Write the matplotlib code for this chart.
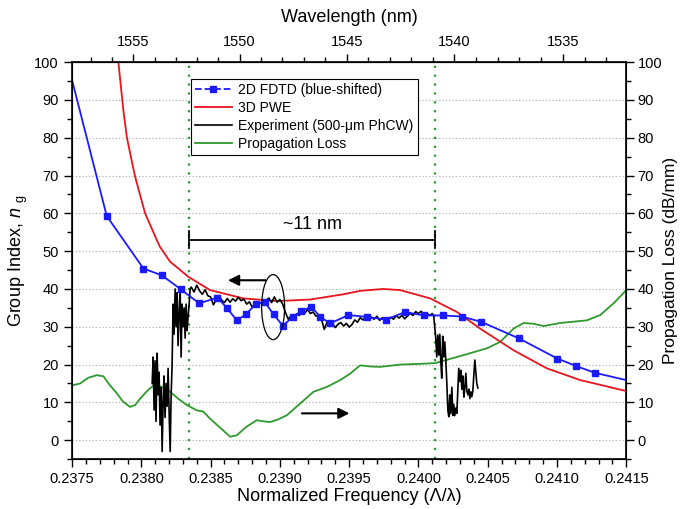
import numpy as np
import matplotlib
matplotlib.use("Agg")
import matplotlib.pyplot as plt
from matplotlib.patches import Ellipse
from matplotlib.ticker import MultipleLocator, FixedLocator
from matplotlib.lines import Line2D

plt.rcParams['font.family'] = ['Liberation Sans', 'DejaVu Sans']
plt.rcParams['mathtext.fontset'] = 'custom'
plt.rcParams['mathtext.rm'] = 'Liberation Sans'
plt.rcParams['mathtext.it'] = 'Liberation Sans:italic'

# lattice constant (nm) linking the two x axes
lattice = 370.0

# 2D FDTD (blue-shifted)
fdtd_f = [0.2375, 0.23775, 0.238015, 0.238148, 0.238285, 0.238417, 0.238549, 0.238617,
          0.238689, 0.238756, 0.238824, 0.238891, 0.238954, 0.239021, 0.239091, 0.239151,
          0.239226, 0.239292, 0.239363, 0.239495, 0.239630, 0.239765, 0.239904, 0.240037,
          0.240177, 0.240314, 0.240453, 0.240727, 0.241002, 0.241139, 0.241276, 0.2415]
fdtd_ng = [95.2, 59.3, 45.4, 43.6, 39.9, 36.2, 37.7, 35.0,
           31.7, 33.3, 36.0, 36.5, 33.3, 30.3, 32.5, 34.1,
           35.3, 32.6, 30.9, 33.1, 32.6, 31.9, 33.9, 33.0,
           33.0, 32.7, 31.3, 26.9, 21.6, 19.6, 17.8, 15.9]

# 3D PWE
pwe_f = [0.237834, 0.237870, 0.237895, 0.237924, 0.237955, 0.238027, 0.238112, 0.238135,
         0.238208, 0.238340, 0.238496, 0.238737, 0.238978, 0.239218, 0.239459, 0.239579,
         0.239745, 0.239868, 0.240085, 0.240278, 0.240446, 0.240686, 0.240927, 0.241168, 0.2415]
pwe_ng = [100, 87.3, 80.2, 75.0, 69.7, 60.0, 52.9, 51.1,
          47.2, 43.2, 39.7, 37.5, 36.8, 37.2, 38.6, 39.5,
          40.0, 39.7, 37.5, 33.9, 29.5, 23.8, 19.0, 15.9, 13.0]

# Experiment (500-um PhCW)
exp_f = [0.238078, 0.238085, 0.238092, 0.238099, 0.238106, 0.238114, 0.238121, 0.238128,
         0.238135, 0.238143, 0.238150, 0.238157, 0.238164, 0.238171, 0.238179, 0.238186,
         0.238193, 0.238200, 0.238208, 0.238215, 0.238222, 0.238229, 0.238236, 0.238244,
         0.238251, 0.238258, 0.238265, 0.238273, 0.238280, 0.238287, 0.238294, 0.238301,
         0.238309, 0.238316, 0.238323, 0.238330, 0.238338, 0.238345, 0.238352,
         0.23836, 0.23838, 0.23840, 0.23842, 0.23844, 0.23846, 0.23848, 0.23850,
         0.23852, 0.23854, 0.23856, 0.23858, 0.23860, 0.23862, 0.23864, 0.23866,
         0.23868, 0.23870, 0.23872, 0.23874, 0.23876, 0.23878, 0.23880, 0.23882,
         0.23884, 0.23886, 0.23888, 0.23890, 0.23892, 0.23894, 0.23896, 0.23898,
         0.23900, 0.23902, 0.23904, 0.23906, 0.23908, 0.23910, 0.23912, 0.23914,
         0.23916, 0.23918, 0.23920, 0.23922, 0.23924, 0.23926, 0.23928, 0.23930,
         0.23932, 0.23934, 0.23936, 0.23938, 0.23940, 0.23942, 0.23944, 0.23946,
         0.23948, 0.23950, 0.23952, 0.23954, 0.23956, 0.23958, 0.23960, 0.23962,
         0.23964, 0.23966, 0.23968, 0.23970, 0.23972, 0.23974, 0.23976, 0.23978,
         0.23980, 0.23982, 0.23984, 0.23986, 0.23988, 0.23990, 0.23992, 0.23994,
         0.23996, 0.23998, 0.24000, 0.24002, 0.24004, 0.24006, 0.24008, 0.24010,
         0.24011, 0.240125, 0.240132, 0.240140, 0.240147, 0.240154, 0.240161, 0.240168,
         0.240175, 0.240183, 0.240190, 0.240197, 0.240205, 0.240212, 0.240219, 0.240226,
         0.240233, 0.240241, 0.240248, 0.240255, 0.240262, 0.240270, 0.240277, 0.240284,
         0.240291, 0.240299, 0.240306, 0.240313, 0.240320, 0.240328, 0.240335, 0.240342,
         0.240349, 0.240357, 0.240364, 0.240371, 0.240378, 0.240385, 0.240393, 0.240400,
         0.240407, 0.240414, 0.240421, 0.240429]
exp_ng = [15, 22, 8, 21, 5, 23, 12, 18,
          4, 14, -3, 10, 17, 6, 15, 9,
          19, 8, -3, 12, 20, 36, 28, 40,
          30, 39, 25, 34, 40, 22, 36, 30,
          35, 27, 36, 29, 33, 36, 40,
          40.5, 39.2, 41.0, 39.5, 38.6, 39.8, 38.2, 37.9,
          35.8, 37.2, 38.3, 37.0, 36.4, 37.5, 36.5, 37.4,
          36.8, 37.8, 36.9, 37.3, 36.0, 36.6, 35.2, 36.1,
          35.6, 36.4, 35.8, 36.9, 37.6, 36.4, 37.9, 36.5,
          37.2, 36.0, 33.8, 32.0, 32.9, 32.3, 33.4, 33.0,
          34.2, 33.6, 34.6, 33.5, 33.9, 32.8, 33.2, 32.0,
          29.3, 31.2, 30.6, 30.8, 29.8, 30.7, 31.1, 30.2,
          30.9, 29.9, 30.6, 31.8, 31.2, 32.4, 31.8, 32.6,
          31.9, 32.5, 32.0, 32.8, 31.7, 32.4, 31.2, 31.9,
          32.5, 32.0, 32.9, 32.3, 33.0, 32.1, 32.8, 33.6,
          33.0, 34.0, 33.5, 34.1, 33.0, 33.6, 33.0, 33.5,
          32.9, 27.0, 22.0, 27.8, 22.5, 28.0, 21.0, 16.4,
          27.5, 22.0, 26.0, 21.5, 15.0, 8.0, 6.2, 12.0,
          7.0, 14.0, 6.5, 9.5, 6.5, 8.5, 7.1, 13.0,
          19.0, 15.5, 18.5, 13.5, 17.0, 11.4, 14.0, 17.7,
          13.0, 12.0, 13.5, 11.0, 12.8, 11.5, 13.2, 17.5,
          21.2, 18.0, 15.0, 13.8]

# Propagation loss (dB/mm)
loss_f = [0.2375, 0.237558, 0.237616, 0.237678, 0.237726, 0.237774, 0.237823, 0.237868,
          0.237919, 0.237955, 0.237991, 0.238049, 0.238099, 0.238150, 0.238208, 0.238265,
          0.238328, 0.238400, 0.238446, 0.238496, 0.238569, 0.238641, 0.238689, 0.238756,
          0.238834, 0.238879, 0.238930, 0.238987, 0.239050, 0.239146, 0.239242, 0.239339,
          0.239435, 0.239507, 0.239579, 0.239652, 0.239724, 0.239868, 0.240013, 0.240121,
          0.240229, 0.240325, 0.240494, 0.240590, 0.240686, 0.240759, 0.240829, 0.240903,
          0.241023, 0.241216, 0.241312, 0.241408, 0.2415]
loss_db = [14.5, 15.0, 16.5, 17.2, 16.9, 14.5, 12.4, 10.2,
           8.8, 9.3, 11.0, 13.3, 14.8, 14.0, 12.8, 11.0,
           9.3, 7.9, 7.6, 5.7, 3.3, 0.9, 1.3, 3.5,
           5.3, 5.0, 4.8, 5.5, 6.6, 9.7, 12.8, 14.1,
           15.9, 17.6, 19.8, 19.5, 19.4, 20.0, 20.2, 20.4,
           21.5, 22.5, 24.3, 26.0, 29.5, 31.0, 30.8, 30.2,
           31.0, 31.7, 33.1, 36.2, 39.7]

band_edges = [0.238347, 0.240121]
bracket_y = 53

fig = plt.figure(figsize=(6.8, 5.09), dpi=100)
ax = fig.add_axes([0.106, 0.098, 0.815, 0.780])

for y in range(0, 100, 10):
    ax.axhline(y, color='#aaaaaa', ls=(0, (1, 2)), lw=0.8, zorder=0)
for xe in band_edges:
    ax.axvline(xe, color='#2e9a2e', ls=(0, (1, 3)), lw=1.6, zorder=1)

ax.plot(loss_f, loss_db, color='#2e9a2e', lw=1.3, zorder=2)
ax.plot(pwe_f, pwe_ng, color='#e8141e', lw=1.3, zorder=3)
ax.plot(exp_f, exp_ng, color='black', lw=1.2, zorder=4)
ax.plot(fdtd_f, fdtd_ng, color='#1a1aff', lw=1.3, zorder=5)
ax.plot(fdtd_f[1:-1], fdtd_ng[1:-1], ls='none', marker='s', ms=4.2, color='#1a1aff', zorder=6)

# ~11 nm bracket
ax.plot([band_edges[0], band_edges[1]], [bracket_y, bracket_y], color='black', lw=1.3)
for xe in band_edges:
    ax.plot([xe, xe], [bracket_y - 2.2, bracket_y + 2.2], color='black', lw=1.3)
ax.text(sum(band_edges) / 2, bracket_y + 1.8, '~11 nm', ha='center', va='bottom', fontsize=13)

# arrows and ellipse
ax.annotate('', xy=(0.238605, 42.3), xytext=(0.238915, 42.3),
            arrowprops=dict(arrowstyle='-|>', mutation_scale=16, lw=1.5, color='black'))
ax.annotate('', xy=(0.239522, 7.1), xytext=(0.239139, 7.1),
            arrowprops=dict(arrowstyle='-|>', mutation_scale=16, lw=1.5, color='black'))
ax.add_patch(Ellipse((0.238951, 35.2), 0.000166, 17.2, fill=False, edgecolor='black', lw=0.9, zorder=7))

ax.set_xlim(0.2375, 0.2415)
ax.set_ylim(-5, 100)
ax.xaxis.set_minor_locator(MultipleLocator(0.0001))
ax.yaxis.set_minor_locator(MultipleLocator(5))
xt = np.arange(0.2375, 0.24151, 0.0005)
ax.set_xticks(xt)
ax.set_xticklabels(['%.4f' % v for v in xt])
ax.set_yticks(range(0, 101, 10))
ax.tick_params(which='both', direction='out', labelsize=10.5, width=1.0)
ax.tick_params(which='major', length=6)
ax.tick_params(which='minor', length=3.5)
ax.set_xlabel('Normalized Frequency (\u039b/\u03bb)', fontsize=13, labelpad=1)
ax.set_ylabel('Group Index, $n$ $_{\\rm g}$', fontsize=13, labelpad=3)
for s in ax.spines.values():
    s.set_linewidth(1.2)

ax2 = ax.twinx()
ax2.set_ylim(-5, 100)
ax2.set_yticks(range(0, 101, 10))
ax2.yaxis.set_minor_locator(MultipleLocator(5))
ax2.tick_params(which='both', direction='out', labelsize=10.5, width=1.0, pad=2)
ax2.tick_params(which='major', length=6)
ax2.tick_params(which='minor', length=3.5)
ax2.set_ylabel('Propagation Loss (dB/mm)', fontsize=12.5, labelpad=1)

top = ax.secondary_xaxis('top', functions=(lambda f: lattice / f, lambda w: lattice / w))
top.set_xticks([1555, 1550, 1545, 1540, 1535])
top.xaxis.set_minor_locator(FixedLocator(list(range(1533, 1558))))
top.tick_params(which='both', direction='out', labelsize=10.5, width=1.0)
top.tick_params(which='major', length=6)
top.tick_params(which='minor', length=3.5)
top.set_xlabel('Wavelength (nm)', fontsize=13, labelpad=9)

handles = [Line2D([], [], color='#1a1aff', lw=1.3, ls='--', marker='s', ms=4.2),
           Line2D([], [], color='#e8141e', lw=1.3),
           Line2D([], [], color='black', lw=1.2),
           Line2D([], [], color='#2e9a2e', lw=1.3)]
labels = ['2D FDTD (blue-shifted)', '3D PWE', 'Experiment (500-\u03bcm PhCW)', 'Propagation Loss']
leg = ax2.legend(handles, labels, loc='upper left', bbox_to_anchor=(0.215, 0.958), fontsize=10,
                 frameon=True, fancybox=False, edgecolor='black', framealpha=1,
                 borderpad=0.3, labelspacing=0.28, handlelength=2.6, handletextpad=0.5,
                 borderaxespad=0)
leg.get_frame().set_linewidth(0.8)

fig.savefig('out.png', dpi=100)
